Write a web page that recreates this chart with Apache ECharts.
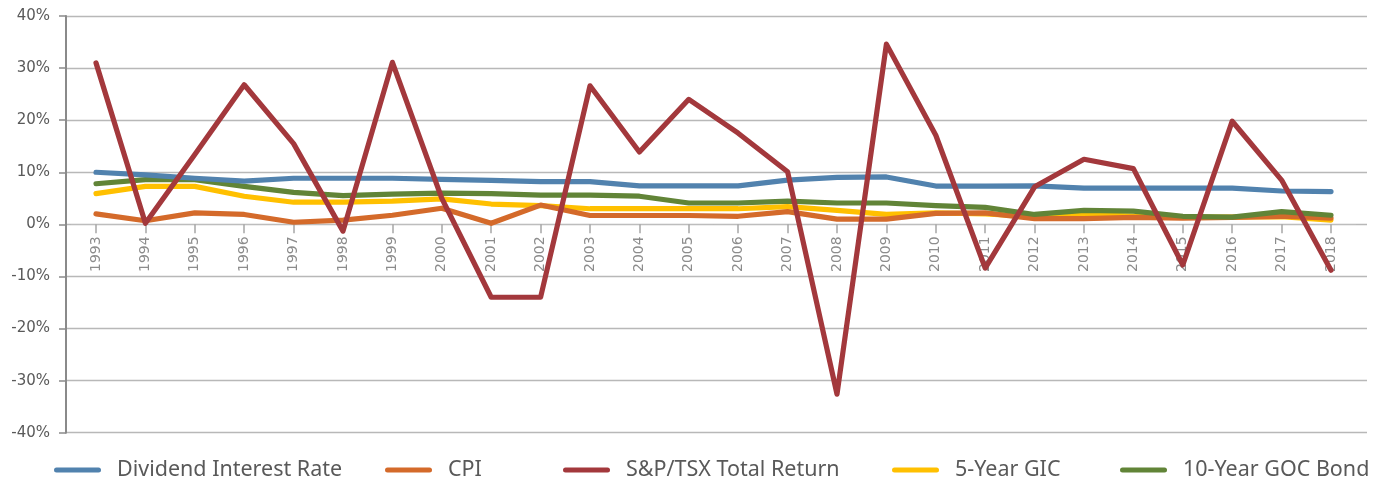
<!DOCTYPE html>
<html>
<head>
<meta charset="utf-8">
<script src="https://cdn.jsdelivr.net/npm/echarts@6/dist/echarts.min.js"></script>
<style>
html,body{margin:0;padding:0;background:#fff;}
#chart{width:1391px;height:482px;}
</style>
</head>
<body>
<div id="chart"></div>
<script>
const years = ['1993','1994','1995','1996','1997','1998','1999','2000','2001','2002','2003','2004','2005','2006','2007','2008','2009','2010','2011','2012','2013','2014','2015','2016','2017','2018'];
const dividendRate = [10.0, 9.5, 8.85, 8.3, 8.85, 8.85, 8.85, 8.65, 8.45, 8.2, 8.2, 7.4, 7.4, 7.4, 8.5, 9.0, 9.1, 7.35, 7.35, 7.4, 6.95, 6.95, 6.95, 6.95, 6.4, 6.3];
const cpi = [2.0, 0.7, 2.2, 1.9, 0.4, 0.8, 1.75, 3.1, 0.2, 3.7, 1.7, 1.7, 1.7, 1.55, 2.45, 1.0, 1.0, 2.1, 2.2, 1.1, 1.1, 1.35, 1.2, 1.35, 1.55, 1.2];
const tsxReturn = [31.0, 0.2, 13.4, 26.8, 15.5, -1.3, 31.1, 5.0, -14.0, -14.0, 26.6, 13.9, 24.0, 17.5, 10.1, -32.6, 34.6, 17.1, -8.4, 7.2, 12.5, 10.7, -7.8, 19.8, 8.5, -8.8];
const gic5 = [5.9, 7.3, 7.3, 5.4, 4.25, 4.25, 4.45, 4.9, 3.9, 3.6, 3.0, 3.0, 3.0, 3.0, 3.4, 2.7, 1.9, 2.2, 2.0, 1.5, 1.9, 1.6, 1.4, 1.4, 1.5, 0.8];
const goc10 = [7.8, 8.6, 8.6, 7.3, 6.15, 5.5, 5.8, 6.0, 5.9, 5.6, 5.6, 5.4, 4.1, 4.1, 4.45, 4.1, 4.1, 3.6, 3.25, 1.9, 2.7, 2.55, 1.55, 1.4, 2.45, 1.75];
const seriesNames = ['Dividend Interest Rate', 'CPI', 'S&P/TSX Total Return', '5-Year GIC', '10-Year GOC Bond'];
const colors = {
  'Dividend Interest Rate': '#5182AE',
  'CPI': '#D46A2A',
  'S&P/TSX Total Return': '#A3383C',
  '5-Year GIC': '#FFC000',
  '10-Year GOC Bond': '#618437'
};
const legendLeft = [54, 385, 563, 892, 1120];

const chart = echarts.init(document.getElementById('chart'), null, {renderer: 'canvas'});
const icon = 'path://M2.5,0 H44.5 A2.5,2.5 0 0 1 44.5,5 H2.5 A2.5,2.5 0 0 1 2.5,0 Z';

function lineSeries(name, data) {
  return {
    name: name, type: 'line', xAxisIndex: 1, yAxisIndex: 1, data: data,
    symbol: 'none', smooth: false,
    lineStyle: {width: 5.2, color: colors[name], cap: 'round', join: 'round'},
    itemStyle: {color: colors[name]},
    emphasis: {disabled: true}, animation: false
  };
}

const plotTop = 16, plotBottom = 482 - 432.7;
const zeroFromBottom = 482 - (plotTop + (432.7 - plotTop) / 2);

const option = {
  animation: false,
  grid: [
    {left: 66, right: 24, top: plotTop, bottom: plotBottom, outerBoundsMode: 'none'},
    {left: 71.3, right: 35.3, top: plotTop, bottom: plotBottom, outerBoundsMode: 'none'},
    {left: 71.3, right: 35.3, top: plotTop, bottom: zeroFromBottom, outerBoundsMode: 'none'}
  ],
  xAxis: [
    {gridIndex: 0, type: 'category', data: years, show: false},
    {gridIndex: 1, type: 'category', data: years, boundaryGap: true, show: false},
    {gridIndex: 2, type: 'category', data: years, boundaryGap: true, position: 'bottom',
     axisLine: {show: true, onZero: false, lineStyle: {color: '#bdbdbd', width: 1}},
     axisTick: {show: true, alignWithLabel: true, length: 9, lineStyle: {color: '#a6a6a6', width: 1.5}},
     axisLabel: {show: true, rotate: 90, margin: 12, color: '#8c8c8c', fontFamily: 'DejaVu Sans', fontSize: 14, interval: 0, hideOverlap: false},
     splitLine: {show: false}}
  ],
  yAxis: [
    {gridIndex: 0, type: 'value', min: -40, max: 40, interval: 10,
     axisLine: {show: true, lineStyle: {color: '#8a8a8a', width: 2}},
     axisTick: {show: true, length: 7, lineStyle: {color: '#8a8a8a', width: 1.5}},
     axisLabel: {formatter: '{value}%', margin: 16, color: '#595959', fontFamily: 'DejaVu Sans', fontSize: 15},
     splitLine: {show: true, lineStyle: {color: '#b8b8b8', width: 1.3}}},
    {gridIndex: 1, type: 'value', min: -40, max: 40, interval: 10, show: false},
    {gridIndex: 2, type: 'value', min: 0, max: 40, interval: 10, show: false}
  ],
  legend: seriesNames.map((n, i) => ({
    data: [n], left: legendLeft[i], top: 459, orient: 'horizontal', padding: 0,
    icon: icon, itemWidth: 47, itemHeight: 5, selectedMode: false,
    textStyle: {color: '#595959', fontFamily: 'Noto Sans', fontSize: 21.5, padding: [0, 0, 0, 11]}
  })),
  series: [
    lineSeries('5-Year GIC', gic5),
    lineSeries('CPI', cpi),
    lineSeries('10-Year GOC Bond', goc10),
    lineSeries('Dividend Interest Rate', dividendRate),
    lineSeries('S&P/TSX Total Return', tsxReturn)
  ]
};
chart.setOption(option);
</script>
</body>
</html>
